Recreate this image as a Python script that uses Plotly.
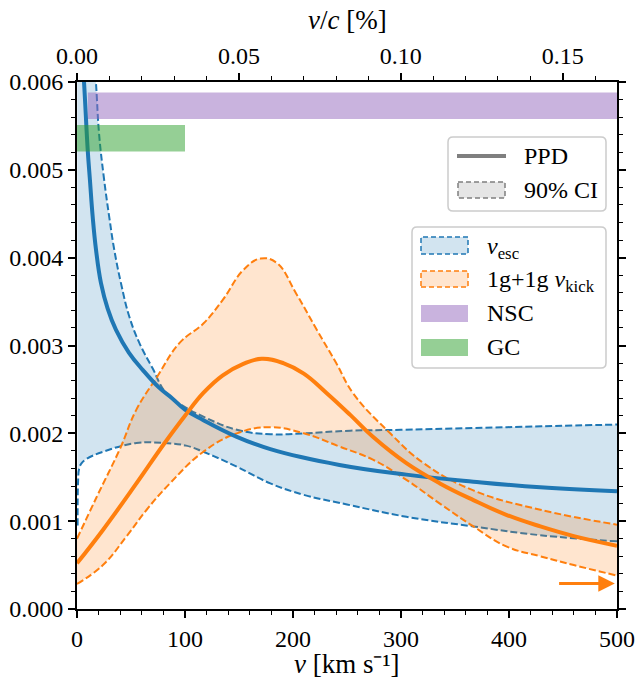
import plotly.graph_objects as go

# ---------------- data (densities in units of 1e-3) ----------------
SCALE = 1e-3
C_KMS = 299792.458
V_RANGE = [0, 500]

# escape velocity PPD (median) and 90% CI bounds
esc_med_v = [2, 4, 6.5, 9.9, 12, 14.5, 17.6, 22.2, 28.4, 36, 48, 61, 76, 88, 100, 117, 148, 179, 243, 305, 367, 429, 500]
esc_med_p = [6.85, 6.45, 6.0, 5.23, 4.88, 4.47, 4.09, 3.71, 3.42, 3.18, 2.92, 2.72, 2.52, 2.40, 2.27, 2.15, 1.96, 1.82, 1.64, 1.53, 1.45, 1.385, 1.34]

esc_hi_v = [0, 8, 12, 17.5, 20.5, 25, 30, 34.5, 40.7, 48.4, 57.7, 70, 82.4, 100, 117, 148, 179, 210, 253, 300, 367, 430, 500]
esc_hi_p = [9.5, 7.6, 6.9, 6.0, 5.4, 4.9, 4.45, 4.09, 3.71, 3.33, 3.03, 2.74, 2.46, 2.30, 2.19, 2.04, 1.99, 2.00, 2.03, 2.04, 2.06, 2.08, 2.10]

esc_lo_v = [0.6, 1.0, 2.0, 4.3, 9, 24, 55, 80, 101, 117, 148, 179, 210, 250, 305, 367, 429, 500]
esc_lo_p = [0.95, 1.45, 1.60, 1.66, 1.71, 1.79, 1.89, 1.89, 1.86, 1.79, 1.62, 1.43, 1.30, 1.19, 1.05, 0.94, 0.84, 0.77]

# 1g+1g kick velocity PPD (median) and 90% CI bounds
kick_med_v = [0, 24, 55, 80, 100, 117, 135, 154, 171, 191, 210, 231, 253, 274, 305, 336, 367, 398, 429, 460, 500]
kick_med_p = [0.52, 0.90, 1.43, 1.87, 2.20, 2.46, 2.66, 2.79, 2.85, 2.80, 2.68, 2.46, 2.21, 1.96, 1.66, 1.43, 1.24, 1.07, 0.94, 0.83, 0.72]

kick_hi_v = [0, 18, 40, 55, 74, 95, 117, 135, 154, 170, 185, 203, 222, 240, 256, 290, 321, 367, 429, 500]
kick_hi_p = [0.80, 1.27, 1.83, 2.27, 2.64, 3.03, 3.25, 3.52, 3.86, 3.99, 3.94, 3.59, 3.18, 2.80, 2.45, 2.00, 1.66, 1.35, 1.13, 0.96]

kick_lo_v = [0, 24, 46, 64.5, 86, 117, 148, 179, 210, 243, 274, 305, 336, 367, 398, 429, 460, 500]
kick_lo_p = [0.285, 0.50, 0.83, 1.13, 1.43, 1.79, 2.00, 2.07, 2.00, 1.85, 1.70, 1.47, 1.20, 0.94, 0.71, 0.60, 0.50, 0.38]

# escape-velocity ranges of host environments
nsc_v = [10, 600]
nsc_p = [5.58, 5.88]
gc_v = [0, 100]
gc_p = [5.21, 5.51]

# arrow: kick distribution continues beyond plotted range
arrow_v = [445, 498]
arrow_p = 0.29

x_ticks = [0, 100, 200, 300, 400, 500]
y_ticks = [0.0, 1.0, 2.0, 3.0, 4.0, 5.0, 6.0]
top_ticks = [0.00, 0.05, 0.10, 0.15]

# ---------------- styling ----------------
BLUE = "#1f77b4"
ORANGE = "#ff7f0e"
BLUE_F = "rgba(31,119,180,0.2)"
ORANGE_F = "rgba(255,127,14,0.2)"
NSC_F = "rgba(148,103,189,0.5)"
GC_F = "rgba(44,160,44,0.5)"
FONT = "Liberation Serif"
DASH = "7px,3px"
SMOOTH = 1.2

W, H = 636, 681
L, R, T, B = 77, 617, 82, 609


def sc(vals):
    return [v * SCALE for v in vals]


def px(x):
    return (x - L) / (R - L)


def py(y):
    return (B - y) / (B - T)


fig = go.Figure()

# fills + CI bounds
fig.add_trace(go.Scatter(x=esc_lo_v, y=sc(esc_lo_p), mode="lines",
                         line=dict(color=BLUE, width=2, dash=DASH, shape="spline", smoothing=SMOOTH),
                         showlegend=False, hoverinfo="skip"))
fig.add_trace(go.Scatter(x=esc_hi_v, y=sc(esc_hi_p), mode="lines", fill="tonexty", fillcolor=BLUE_F,
                         line=dict(color=BLUE, width=2, dash=DASH, shape="spline", smoothing=SMOOTH),
                         showlegend=False, hoverinfo="skip"))
fig.add_trace(go.Scatter(x=kick_lo_v, y=sc(kick_lo_p), mode="lines",
                         line=dict(color=ORANGE, width=2, dash=DASH, shape="spline", smoothing=SMOOTH),
                         showlegend=False, hoverinfo="skip"))
fig.add_trace(go.Scatter(x=kick_hi_v, y=sc(kick_hi_p), mode="lines", fill="tonexty", fillcolor=ORANGE_F,
                         line=dict(color=ORANGE, width=2, dash=DASH, shape="spline", smoothing=SMOOTH),
                         showlegend=False, hoverinfo="skip"))

# medians
fig.add_trace(go.Scatter(x=esc_med_v, y=sc(esc_med_p), mode="lines",
                         line=dict(color=BLUE, width=4, shape="spline", smoothing=SMOOTH),
                         showlegend=False, hoverinfo="skip"))
fig.add_trace(go.Scatter(x=kick_med_v, y=sc(kick_med_p), mode="lines",
                         line=dict(color=ORANGE, width=4, shape="spline", smoothing=SMOOTH),
                         showlegend=False, hoverinfo="skip"))

# NSC / GC bands
for vv, pp, col in [(nsc_v, nsc_p, NSC_F), (gc_v, gc_p, GC_F)]:
    fig.add_trace(go.Scatter(x=[vv[0], vv[1], vv[1], vv[0], vv[0]],
                             y=sc([pp[0], pp[0], pp[1], pp[1], pp[0]]),
                             mode="lines", fill="toself", fillcolor=col, line=dict(width=0),
                             showlegend=False, hoverinfo="skip"))

# invisible trace to activate top axis
fig.add_trace(go.Scatter(x=[0, V_RANGE[1] / C_KMS * 100], y=[0, 0], xaxis="x2", mode="markers",
                         marker=dict(opacity=0), showlegend=False, hoverinfo="skip"))

# arrow
fig.add_annotation(x=arrow_v[1], y=arrow_p * SCALE, ax=arrow_v[0], ay=arrow_p * SCALE,
                   xref="x", yref="y", axref="x", ayref="y", text="", showarrow=True,
                   arrowhead=2, arrowsize=1.1, arrowwidth=3, arrowcolor=ORANGE)

axis_common = dict(showline=True, linecolor="black", linewidth=1.8, showgrid=False, zeroline=False,
                   ticks="outside", ticklen=7, tickwidth=1.5, tickcolor="black", automargin=False,
                   tickfont=dict(family=FONT, size=24, color="black"))

fig.update_layout(
    width=W, height=H,
    margin=dict(l=L, r=W - R, t=T, b=H - B, pad=0),
    plot_bgcolor="white", paper_bgcolor="white",
    showlegend=False,
    xaxis=dict(range=V_RANGE, tickvals=x_ticks, ticktext=[str(t) for t in x_ticks],
               minor=dict(dtick=20, ticks="outside", ticklen=4, tickwidth=1.2, tickcolor="black"),
               **axis_common),
    xaxis2=dict(overlaying="x", side="top", range=[0, V_RANGE[1] / C_KMS * 100],
                tickvals=top_ticks, ticktext=[f"{t:.2f}" for t in top_ticks],
                minor=dict(dtick=0.01, tick0=0, ticks="outside", ticklen=4, tickwidth=1.2, tickcolor="black"),
                **axis_common),
    yaxis=dict(range=[0, 6 * SCALE], tickvals=sc(y_ticks), ticktext=[f"{t * SCALE:.3f}" for t in y_ticks],
               mirror="ticks",
               minor=dict(dtick=0.2 * SCALE, tick0=0, ticks="outside", ticklen=4, tickwidth=1.2, tickcolor="black"),
               **axis_common),
)

# axis titles
title_font = dict(family=FONT, size=27, color="black")
fig.add_annotation(x=px(347), y=py(664), xref="paper", yref="paper", text="<i>v</i> [km s⁻¹]",
                   showarrow=False, xanchor="center", yanchor="middle", font=title_font)
fig.add_annotation(x=px(347), y=py(20), xref="paper", yref="paper", text="<i>v</i>/<i>c</i> [%]",
                   showarrow=False, xanchor="center", yanchor="middle", font=title_font)


# ---------------- legends (drawn manually) ----------------
def rrect(x0, y0, x1, y1, r=5):
    rx = r / (R - L)
    ry = r / (B - T)
    X0, X1 = px(x0), px(x1)
    Y0, Y1 = py(y1), py(y0)  # bottom, top in paper
    return (f"M{X0 + rx},{Y0} L{X1 - rx},{Y0} Q{X1},{Y0} {X1},{Y0 + ry} "
            f"L{X1},{Y1 - ry} Q{X1},{Y1} {X1 - rx},{Y1} L{X0 + rx},{Y1} "
            f"Q{X0},{Y1} {X0},{Y1 - ry} L{X0},{Y0 + ry} Q{X0},{Y0} {X0 + rx},{Y0} Z")


shapes = []
for box in [(448, 137, 606, 211), (412, 227, 606, 368)]:
    shapes.append(dict(type="path", xref="paper", yref="paper", path=rrect(*box),
                       fillcolor="rgba(255,255,255,0.85)", line=dict(color="#cccccc", width=1.5), layer="above"))

# PPD entry
shapes.append(dict(type="line", xref="paper", yref="paper", x0=px(457), x1=px(506), y0=py(156), y1=py(156),
                   line=dict(color="#7f7f7f", width=4), layer="above"))
# 90% CI entry
shapes.append(dict(type="rect", xref="paper", yref="paper", x0=px(458), x1=px(505), y0=py(182), y1=py(198),
                   fillcolor="#e5e5e5", line=dict(color="#7f7f7f", width=1.5, dash="5px,3px"), layer="above"))
# series entries
entries = [
    (237, 254, BLUE_F, BLUE, "<i>v</i><sub>esc</sub>", 248),
    (271, 287, ORANGE_F, ORANGE, "1g+1g <i>v</i><sub>kick</sub>", 281),
    (305, 322, NSC_F, None, "NSC", 313),
    (339, 356, GC_F, None, "GC", 347),
]
for y0, y1, fc, lc, _, _ in entries:
    if lc:
        shapes.append(dict(type="rect", xref="paper", yref="paper", x0=px(421), x1=px(468), y0=py(y1), y1=py(y0),
                           fillcolor=fc, line=dict(color=lc, width=1.5, dash="5px,3px"), layer="above"))
    else:
        shapes.append(dict(type="rect", xref="paper", yref="paper", x0=px(421), x1=px(468), y0=py(y1), y1=py(y0),
                           fillcolor=fc, line=dict(width=0), layer="above"))
fig.update_layout(shapes=shapes)

lab_font = dict(family=FONT, size=24, color="black")
fig.add_annotation(x=px(522), y=py(156), xref="paper", yref="paper", text="PPD", showarrow=False,
                   xanchor="left", yanchor="middle", font=lab_font)
fig.add_annotation(x=px(522), y=py(190), xref="paper", yref="paper", text="90% CI", showarrow=False,
                   xanchor="left", yanchor="middle", font=lab_font)
for _, _, _, _, txt, yc in entries:
    fig.add_annotation(x=px(485), y=py(yc), xref="paper", yref="paper", text=txt, showarrow=False,
                       xanchor="left", yanchor="middle", font=lab_font)

fig.write_html("out.html", config={"displayModeBar": False},
               post_script="document.body.style.margin='0';document.body.style.padding='0';")
